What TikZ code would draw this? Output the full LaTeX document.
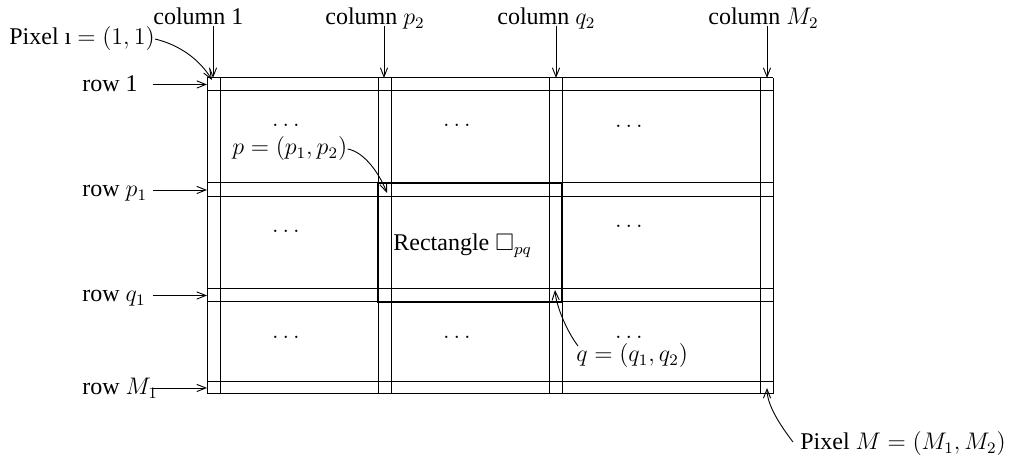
\documentclass[tikz,border=0pt]{standalone}
\usepackage{amssymb}
\usepackage{fontspec}
\setmainfont{Liberation Serif}
\usetikzlibrary{arrows.meta}
\begin{document}
\begin{tikzpicture}[x=0.5pt,y=-0.5pt,
  gridline/.style={line width=0.5pt},
  thickbox/.style={line width=1.1pt},
  lbl/.style={anchor=base west,inner sep=0pt,font=\fontsize{12}{14}\selectfont},
  dotsn/.style={inner sep=0pt,font=\fontsize{12}{14}\selectfont},
  arr/.style={-{Straight Barb[length=4.5pt,width=3.6pt,line width=0.45pt]},line width=0.45pt}]
\useasboundingbox (0,0) rectangle (1014,459);
% grid
\foreach \gx in {207,220,378,391,549,562,760,773}
  \draw[gridline] (\gx,78) -- (\gx,394);
\foreach \gy in {78,91,183,197,289,302,382,394}
  \draw[gridline] (207,\gy) -- (773,\gy);
\draw[thickbox] (378,183) rectangle (562,302);
% dots
\node[dotsn] (d11) at (286,125) {$\ldots$};
\node[dotsn] (d12) at (457,125) {$\ldots$};
\node[dotsn] (d13) at (629,126) {$\ldots$};
\node[dotsn] (d21) at (286,231) {$\ldots$};
\node[dotsn] (d23) at (629,226) {$\ldots$};
\node[dotsn] (d31) at (286,337) {$\ldots$};
\node[dotsn] (d32) at (457,337) {$\ldots$};
\node[dotsn] (d33) at (629,337) {$\ldots$};
% column labels
\node[lbl] (c1) at (153,25) {column 1};
\node[lbl] (cp) at (325,25) {column $p_2$};
\node[lbl] (cq) at (497,25) {column $q_2$};
\node[lbl] (cm) at (708,25) {column $M_2$};
\coordinate (c1s) at (213,26); \coordinate (c1e) at (213,78);
\coordinate (cps) at (384,26); \coordinate (cpe) at (384,78);
\coordinate (cqs) at (556,26); \coordinate (cqe) at (556,78);
\coordinate (cms) at (767,26); \coordinate (cme) at (767,78);
\draw[arr] (c1s) -- (c1e);
\draw[arr] (cps) -- (cpe);
\draw[arr] (cqs) -- (cqe);
\draw[arr] (cms) -- (cme);
% row labels
\node[lbl] (r1) at (82,92) {row 1};
\node[lbl] (rp) at (82,197) {row $p_1$};
\node[lbl] (rq) at (82,302) {row $q_1$};
\node[lbl] (rm) at (82,395) {row $M_1$};
\coordinate (r1s) at (153,84.5); \coordinate (r1e) at (207,84.5);
\coordinate (rps) at (153,190); \coordinate (rpe) at (207,190);
\coordinate (rqs) at (153,295.5); \coordinate (rqe) at (207,295.5);
\coordinate (rms) at (153,388); \coordinate (rme) at (207,388);
\draw[arr] (r1s) -- (r1e);
\draw[arr] (rps) -- (rpe);
\draw[arr] (rqs) -- (rqe);
\draw[arr] (rms) -- (rme);
% pixel 1
\node[lbl] (px1) at (9,45) {Pixel ı $=(1,1)$};
\coordinate (px1e) at (212,80);
\draw[arr] (px1.east) .. controls (180,45) and (200,60) .. (px1e);
% p
\node[lbl] (pl) at (232,155) {$p=(p_1,p_2)$};
\coordinate (ple) at (387,193);
\draw[arr] (pl.east) .. controls (365,152) and (380,175) .. (ple);
% rectangle
\node[lbl] (rect) at (393,251) {Rectangle $\square_{pq}$};
% q
\node[lbl] (ql) at (576,362) {$q=(q_1,q_2)$};
\coordinate (qs) at (578,346); \coordinate (qe) at (555,290);
\draw[arr] (qs) .. controls (566,330) and (556,305) .. (qe);
% pixel M
\node[lbl] (pxm) at (800,450) {Pixel $M=(M_1,M_2)$};
\coordinate (pms) at (793,442); \coordinate (pme) at (767,388);
\draw[arr] (pms) .. controls (780,425) and (767,405) .. (pme);
\end{tikzpicture}
\end{document}
